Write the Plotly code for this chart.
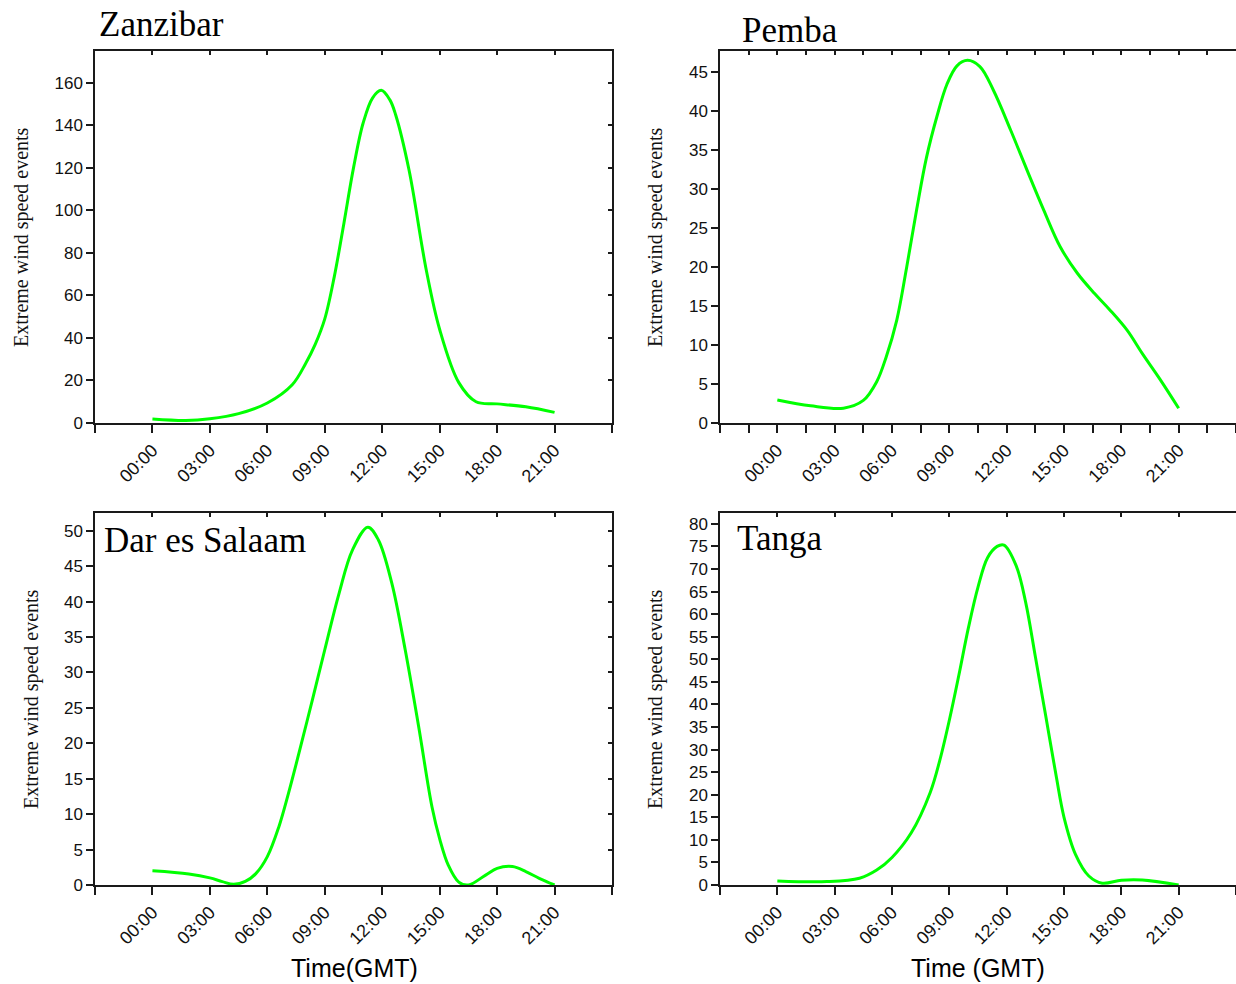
import plotly.graph_objects as go

# ---------------- data (hours GMT, event counts) ----------------
zanzibar_t = [0, 1.74, 3, 4.5, 6, 7.3, 8, 8.5, 9, 9.5, 10, 10.5, 11, 11.5,
              11.95, 12.4, 12.7, 13.4, 14.3, 15, 16, 16.9, 18, 19.5, 21]
zanzibar_v = [1.9, 1.2, 2.0, 4.4, 9.4, 18, 28, 37, 49, 69, 94, 120, 141, 153,
              156.5, 152, 145, 119, 72, 44, 19, 10, 9, 7.6, 5]

pemba_t = [0, 1.74, 3.46, 4.5, 5.2, 5.7, 6.25, 6.77, 7.3, 7.8, 8.35, 8.87, 9.4,
           9.95, 10.6, 11.3, 12.2, 13.07, 13.94, 14.8, 15.7, 16.6, 17.4, 18.3,
           19.1, 20, 21]
pemba_v = [2.95, 2.2, 1.9, 2.9, 5.3, 8.5, 13.2, 20, 27.5, 34, 39.3, 43.4, 45.8,
           46.5, 45.7, 42.7, 37.6, 32.4, 27.3, 22.6, 19.2, 16.6, 14.5, 11.9,
           8.9, 5.7, 1.9]

dar_t = [0, 1.9, 3, 3.65, 4.25, 4.85, 5.4, 6, 6.6, 7.1, 7.65, 8.35, 9, 9.75,
         10.45, 11.25, 11.8, 12.5, 13.2, 13.9, 14.6, 15, 15.45, 16, 16.5, 17.4,
         18, 18.8, 19.5, 20.2, 21]
dar_v = [2.0, 1.55, 1.0, 0.47, 0.1, 0.5, 1.6, 4.0, 8.2, 12.9, 18.6, 26.1, 33.2,
         41.2, 47.3, 50.5, 48.7, 42.6, 33.2, 22.4, 11, 6.5, 2.8, 0.4, 0, 1.4,
         2.35, 2.6, 1.9, 0.95, 0]

tanga_t = [0, 2.6, 4.3, 5.2, 6, 7, 8, 8.5, 9, 9.5, 10, 10.5, 11, 11.5,
           11.86, 12.5, 13, 13.5, 14.05, 14.6, 15, 15.6, 16.3, 17, 18, 19.1, 21]
tanga_v = [0.9, 0.75, 1.5, 3.3, 6.1, 11.5, 20.5, 27.6, 36.5, 46.5, 57, 66, 72.5,
           75, 75.3, 70.7, 62.5, 50.6, 37.3, 23.9, 15, 6.8, 2.0, 0.4, 1.05, 1.1, 0]

tick_hours = [-3, 0, 3, 6, 9, 12, 15, 18, 21, 24]
tick_labels = ["", "00:00", "03:00", "06:00", "09:00", "12:00", "15:00",
               "18:00", "21:00", ""]
pemba_tick_hours = [-3, -1.5, 0, 1.5, 3, 4.5, 6, 7.5, 9, 10.5, 12, 13.5, 15,
                    16.5, 18, 19.5, 21, 22.5, 24]
pemba_tick_labels = ["", "", "00:00", "", "03:00", "", "06:00", "", "09:00",
                     "", "12:00", "", "15:00", "", "18:00", "", "21:00", "", ""]

panel_names = ["Zanzibar", "Pemba", "Dar es Salaam", "Tanga"]
panel_t = [zanzibar_t, pemba_t, dar_t, tanga_t]
panel_v = [zanzibar_v, pemba_v, dar_v, tanga_v]
y_ranges = [[0, 175], [0, 47.7], [0, 52.5], [0, 82.4]]
y_dticks = [20, 5, 5, 5]
y_tops = [160, 45, 50, 80]
x_ticks = [(tick_hours, tick_labels), (pemba_tick_hours, pemba_tick_labels),
           (tick_hours, tick_labels), (tick_hours, tick_labels)]
x_titles = [None, None, "Time(GMT)", "Time (GMT)"]
y_title = "Extreme wind speed events"

# ---------------- layout geometry ----------------
W, H = 1236, 984
x_doms = [[95 / W, 612 / W], [720 / W, 1.0], [95 / W, 612 / W], [720 / W, 1.0]]
y_doms = [[1 - 423 / H, 1 - 51 / H], [1 - 423 / H, 1 - 51 / H],
          [1 - 885 / H, 1 - 513 / H], [1 - 885 / H, 1 - 513 / H]]
right_edge_visible = [True, False, True, False]

SANS = "Liberation Sans, Arial, sans-serif"
SERIF = "Liberation Serif, Times New Roman, serif"
AX = "#1a1a1a"

fig = go.Figure()
layout = dict(
    template="none",
    width=W, height=H, margin=dict(l=0, r=0, t=0, b=0, pad=0, autoexpand=False),
    paper_bgcolor="white", plot_bgcolor="white", showlegend=False,
    font=dict(family=SANS, size=17, color="#111"),
)

for i in range(4):
    n = i + 1
    xs = "" if n == 1 else str(n)
    on = str(n + 4)
    fig.add_trace(go.Scatter(
        x=panel_t[i], y=panel_v[i], mode="lines",
        line=dict(color="#00ff00", width=3, shape="spline", smoothing=1),
        xaxis="x" + xs, yaxis="y" + xs, hoverinfo="skip"))
    # dummy trace to activate overlay (mirror) axes with inward ticks
    fig.add_trace(go.Scatter(x=[None], y=[None], mode="lines",
                             xaxis="x" + on, yaxis="y" + on, hoverinfo="skip"))
    tv, tt = x_ticks[i]
    yvals = list(range(0, y_tops[i] + 1, y_dticks[i]))
    common = dict(showgrid=False, zeroline=False, automargin=False,
                  tickwidth=1.5, tickcolor=AX, linecolor=AX, linewidth=1.5)
    layout["xaxis" + xs] = dict(
        domain=x_doms[i], anchor="y" + xs, range=[-3, 24], showline=True,
        tickmode="array", tickvals=tv, ticktext=tt, tickangle=-45,
        ticks="outside", ticklen=8,
        tickfont=dict(family=SANS, size=18, color="#111"), **common)
    layout["yaxis" + xs] = dict(
        domain=y_doms[i], anchor="x" + xs, range=y_ranges[i], showline=True,
        tickmode="array", tickvals=yvals, ticks="outside", ticklen=7,
        tickfont=dict(family=SANS, size=17, color="#111"), **common)
    layout["xaxis" + on] = dict(
        overlaying="x" + xs, anchor="y" + xs, side="top", range=[-3, 24],
        showline=True, tickmode="array", tickvals=tv, showticklabels=False,
        ticks="inside", ticklen=4, **common)
    vis = right_edge_visible[i]
    layout["yaxis" + on] = dict(
        overlaying="y" + xs, anchor="x" + xs, side="right", range=y_ranges[i],
        showline=vis, tickmode="array", tickvals=yvals, showticklabels=False,
        ticks="inside" if vis else "", ticklen=4, **common)

annotations = []
# panel titles (x left px, y centre px)
title_pos = [(97, 25), (740, 31), (102, 540), (735, 538)]
for name, (px, py) in zip(panel_names, title_pos):
    annotations.append(dict(
        text=name, x=px / W, y=1 - py / H, xref="paper", yref="paper",
        xanchor="left", yanchor="middle", showarrow=False,
        font=dict(family=SERIF, size=35, color="#000")))
# y-axis titles
ytitle_x = [21, 655, 31, 655]
for i in range(4):
    yc = (y_doms[i][0] + y_doms[i][1]) / 2
    annotations.append(dict(
        text=y_title, x=ytitle_x[i] / W, y=yc, xref="paper", yref="paper",
        xanchor="center", yanchor="middle", textangle=-90, showarrow=False,
        font=dict(family=SERIF, size=20, color="#111")))
# x-axis titles
xtitle_pos = [None, None, (354, 968), (978, 968)]
for t, p in zip(x_titles, xtitle_pos):
    if t is None:
        continue
    annotations.append(dict(
        text=t, x=p[0] / W, y=1 - p[1] / H, xref="paper", yref="paper",
        xanchor="center", yanchor="middle", showarrow=False,
        font=dict(family=SANS, size=25, color="#000")))
layout["annotations"] = annotations

fig.update_layout(**layout)
fig.write_html("out.html")
